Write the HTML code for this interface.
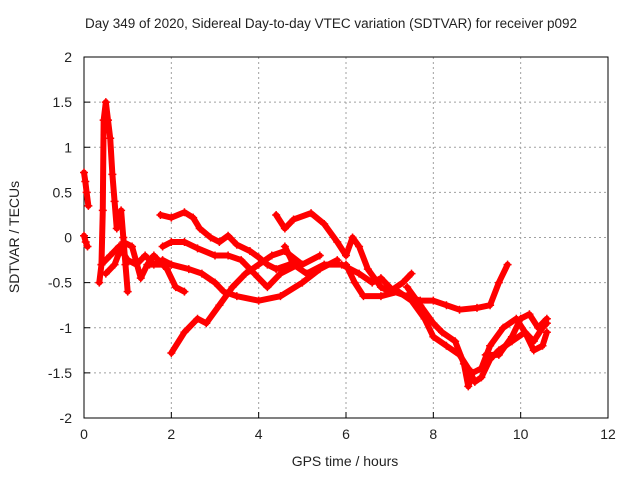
<!DOCTYPE html>
<html><head><meta charset="utf-8"><style>
body{margin:0;background:#fff}
svg text{font-family:"Liberation Sans",sans-serif;font-size:14px;fill:#222}
</style></head><body>
<svg id="chart" width="640" height="480" viewBox="0 0 640 480" xmlns="http://www.w3.org/2000/svg">
<text x="331" y="28" text-anchor="middle" style="font-size:13.5px">Day 349 of 2020, Sidereal Day-to-day VTEC variation (SDTVAR) for receiver p092</text>
<g id="grid"></g>
<g id="axes"></g>
<g id="series"></g>
<text x="345" y="466" text-anchor="middle">GPS time / hours</text>
<text transform="translate(19,237) rotate(-90)" text-anchor="middle">SDTVAR / TECUs</text>
</svg>
<script>
const xTicks=[0,2,4,6,8,10,12];
const yTicks=[2,1.5,1,0.5,0,-0.5,-1,-1.5,-2];
const yTickLabels=["2","1.5","1","0.5","0","-0.5","-1","-1.5","-2"];
const traceA=[[0,0.72],[0.03,0.62],[0.06,0.5],[0.1,0.35]];
const traceA2=[[0,0.02],[0.04,-0.05],[0.08,-0.1]];
const traceB=[[0.35,-0.5],[0.4,-0.3],[0.43,0.3],[0.45,1.3],[0.5,1.5],[0.55,1.3],[0.6,1.1],[0.65,0.7],[0.7,0.4],[0.75,0.1],[0.8,0.2],[0.85,0.3],[0.9,0],[0.95,-0.3],[1.0,-0.6]];
const traceM=[[0.4,-0.3],[0.6,-0.2],[0.8,-0.1],[1.0,-0.25],[1.2,-0.3],[1.4,-0.2],[1.6,-0.3],[1.8,-0.25],[2.0,-0.3]];
const traceM2=[[0.5,-0.4],[0.7,-0.3],[0.9,-0.05],[1.1,-0.1],[1.3,-0.45],[1.45,-0.3],[1.6,-0.2],[1.9,-0.35],[2.1,-0.55],[2.3,-0.6]];
const traceC=[[1.75,0.25],[2.0,0.22],[2.3,0.28],[2.5,0.22],[2.65,0.1],[2.9,0],[3.1,-0.05],[3.3,0.02],[3.5,-0.08],[3.8,-0.15],[4.0,-0.22],[4.2,-0.3],[4.4,-0.35],[4.7,-0.3]];
const traceD=[[1.8,-0.1],[2.0,-0.05],[2.3,-0.05],[2.6,-0.12],[3.0,-0.2],[3.3,-0.2],[3.6,-0.25],[3.9,-0.4],[4.2,-0.55],[4.5,-0.4],[4.9,-0.3]];
const traceE=[[1.5,-0.3],[2.0,-0.3],[2.4,-0.35],[2.7,-0.4],[3.0,-0.5],[3.2,-0.6],[3.5,-0.65],[4.0,-0.7],[4.5,-0.65],[5.0,-0.5],[5.4,-0.35],[5.8,-0.25]];
const traceF=[[2.0,-1.28],[2.3,-1.05],[2.6,-0.9],[2.8,-0.95],[3.1,-0.75],[3.4,-0.55],[3.7,-0.4],[4.0,-0.3],[4.3,-0.2],[4.6,-0.15],[5.0,-0.3],[5.4,-0.2]];
const traceG=[[4.4,0.25],[4.6,0.1],[4.8,0.2],[5.2,0.27],[5.5,0.15],[5.8,-0.05],[6.0,-0.2],[6.15,0.0],[6.3,-0.1],[6.5,-0.35],[6.8,-0.55],[7.0,-0.6],[7.3,-0.5],[7.5,-0.4]];
const traceH=[[4.6,-0.1],[4.8,-0.3],[5.1,-0.4],[5.5,-0.3],[5.9,-0.3],[6.3,-0.4],[6.6,-0.5],[6.8,-0.45],[7.1,-0.6],[7.4,-0.65],[7.7,-0.7],[8.0,-0.7],[8.3,-0.75],[8.6,-0.8],[9.0,-0.78],[9.3,-0.75],[9.5,-0.5],[9.7,-0.3]];
const traceI=[[6.0,-0.3],[6.2,-0.5],[6.4,-0.65],[6.8,-0.65],[7.2,-0.6],[7.5,-0.7],[7.8,-0.9],[8.0,-1.1],[8.3,-1.2],[8.6,-1.3],[8.8,-1.45],[8.95,-1.6],[9.1,-1.55],[9.3,-1.35],[9.5,-1.25],[9.8,-1.15],[10.1,-1.05],[10.3,-1.15],[10.5,-1.0],[10.6,-0.95]];
const traceJ=[[7.4,-0.55],[7.7,-0.75],[8.0,-0.95],[8.2,-1.05],[8.5,-1.15],[8.7,-1.4],[8.8,-1.65],[8.9,-1.5],[9.1,-1.45],[9.3,-1.2],[9.6,-1.0],[9.9,-0.9],[10.1,-1.05],[10.3,-1.25],[10.5,-1.2],[10.6,-1.05]];
const traceK=[[9.2,-1.3],[9.5,-1.3],[9.8,-1.1],[10.0,-0.9],[10.2,-0.85],[10.4,-1.0],[10.6,-0.9]];
const traces=[traceA,traceA2,traceB,traceM,traceM2,traceC,traceD,traceE,traceF,traceG,traceH,traceI,traceJ,traceK];

const X0=84,X1=608,Y0=418,Y1=57;
const xs=v=>X0+(v-0)/(12-0)*(X1-X0);
const ys=v=>Y0-(v+2)/4*(Y0-Y1);
const NS="http://www.w3.org/2000/svg";
function mk(tag,attrs,parent){const e=document.createElementNS(NS,tag);for(const k in attrs)e.setAttribute(k,attrs[k]);parent.appendChild(e);return e;}
const grid=document.getElementById('grid'),axes=document.getElementById('axes'),ser=document.getElementById('series');
xTicks.forEach((t,i)=>{
  if(i>0&&i<xTicks.length-1){const l=mk('line',{x1:xs(t),x2:xs(t),y1:Y1,y2:Y0,stroke:'#a0a0a0','stroke-dasharray':'2,3'},grid);
  
  }
  const tk=mk('line',{x1:xs(t),x2:xs(t),y1:Y0,y2:Y0-6,stroke:'#000'},axes);
  
  
  const tx=mk('text',{x:xs(t),y:Y0+21,'text-anchor':'middle'},axes);tx.textContent=String(t);
  
  
});
yTicks.forEach((t,i)=>{
  if(i>0&&i<yTicks.length-1){const l=mk('line',{x1:X0,x2:X1,y1:ys(t),y2:ys(t),stroke:'#a0a0a0','stroke-dasharray':'2,3'},grid);
  
  }
  const tk=mk('line',{x1:X0,x2:X0+6,y1:ys(t),y2:ys(t),stroke:'#000'},axes);
  
  
  const tx=mk('text',{x:X0-12,y:ys(t)+5,'text-anchor':'end'},axes);tx.textContent=yTickLabels[i];
  
  
});
const frame=mk('rect',{x:X0,y:Y1,width:X1-X0,height:Y0-Y1,fill:'none',stroke:'#000'},axes);


traces.forEach(tr=>{
  const p=mk('polyline',{points:tr.map(d=>xs(d[0])+','+ys(d[1])).join(' '),fill:'none',stroke:'#f00','stroke-width':6,'stroke-linejoin':'round','stroke-linecap':'round'},ser);
  
  
  tr.forEach(d=>{
    const m=mk('path',{d:`M${xs(d[0])-4},${ys(d[1])}h8M${xs(d[0])},${ys(d[1])-4}v8`,stroke:'#f00','stroke-width':1.5},ser);
    
    
  });
});
</script>
</body></html>
